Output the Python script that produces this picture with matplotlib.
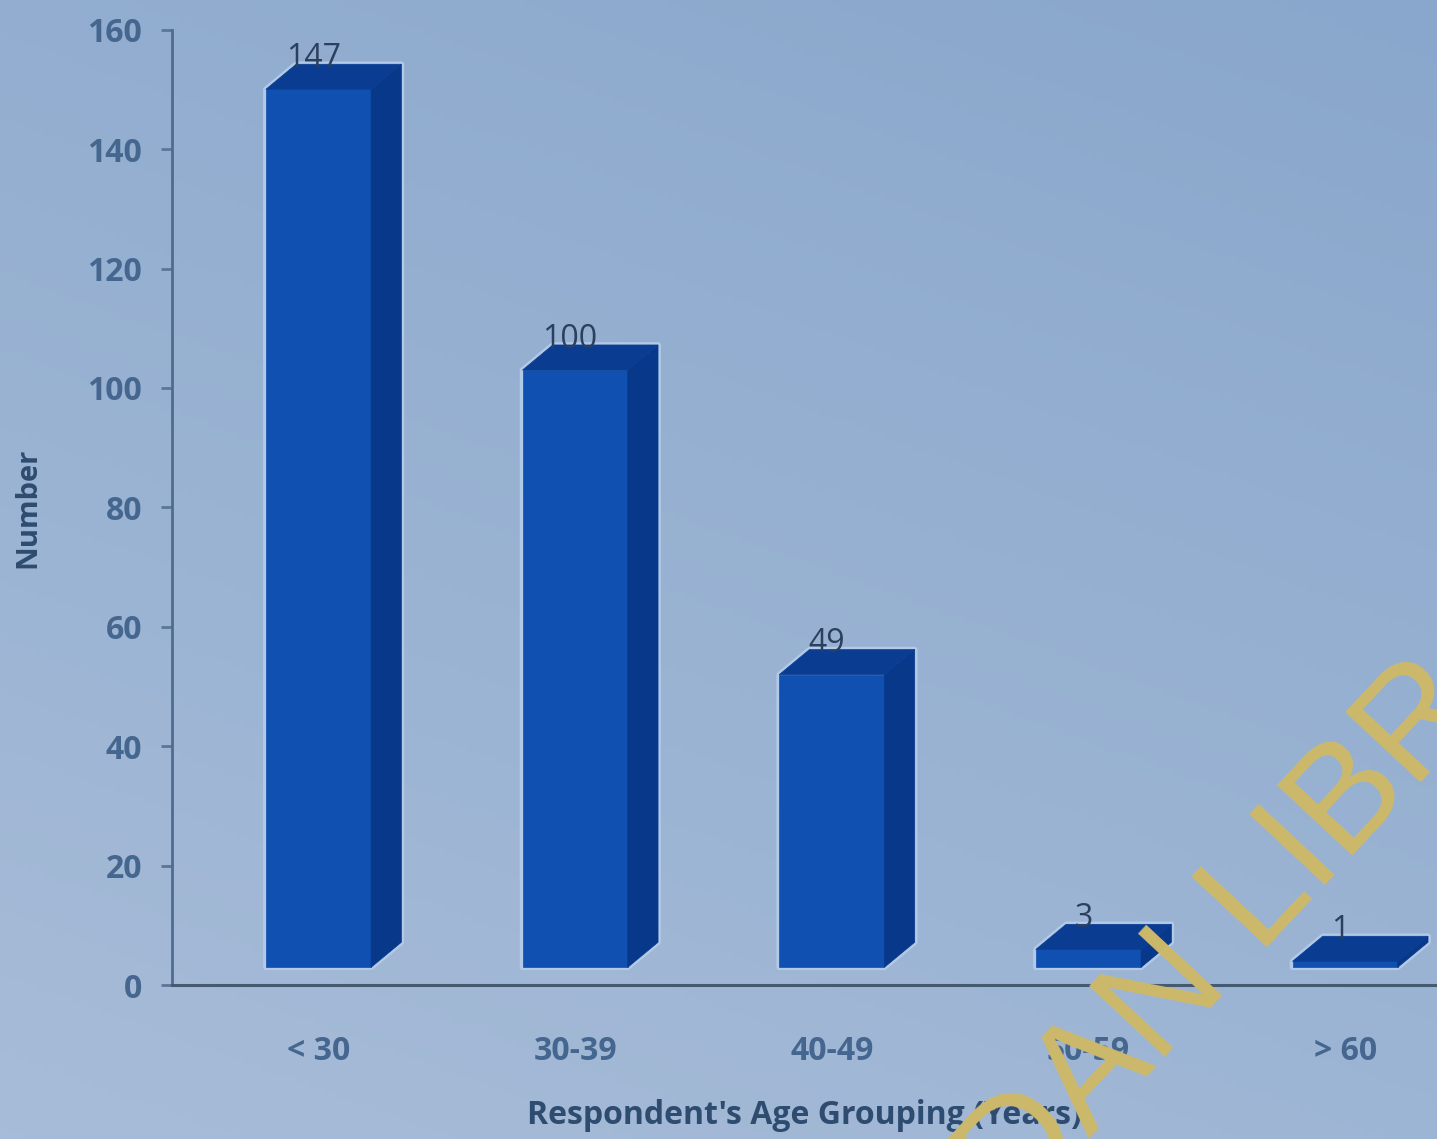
import numpy as np
import matplotlib
matplotlib.use("Agg")
import matplotlib.pyplot as plt
from matplotlib.patches import Polygon

# respondents by age group
age_groups = ["< 30", "30-39", "40-49", "50-59", "> 60"]
counts = [147, 100, 49, 3, 1]
y_ticks = [0, 20, 40, 60, 80, 100, 120, 140, 160]

plt.rcParams['font.family'] = ['Open Sans', 'DejaVu Sans']

fig = plt.figure(figsize=(14.37, 11.39), dpi=100)

# soft blue backdrop, slightly darker towards the top
bg = fig.add_axes([0, 0, 1, 1], zorder=-10)
gy, gx = np.mgrid[0:1:200j, 0:1:200j]
shade = 0.55 * gy + 0.25 * (1 - gx)
bg.imshow(shade, cmap=matplotlib.colors.LinearSegmentedColormap.from_list(
    "bgc", ["#89a7cc", "#a7bcd8"]), extent=[0, 1, 0, 1], aspect='auto',
    origin='upper')
bg.axis('off')

ax = fig.add_axes([0.12, 0.135, 0.88, 0.839])
ax.patch.set_alpha(0)

x = np.arange(len(age_groups))
w = 0.41      # front face width
ddx = 0.118   # depth offset, x data units
ddy = 4.2     # depth offset, y data units
lift = 3.0    # bars stand a little behind the front edge

front_c = "#0f50b0"
side_c = "#08388a"
top_c = "#0a3d92"

ax.bar(x, counts, width=w, bottom=lift, color=front_c, edgecolor=front_c,
       linewidth=0.5, zorder=3)
for xi, v in zip(x, counts):
    x0, x1 = xi - w / 2, xi + w / 2
    top = lift + v
    outline = [(x0, lift), (x1, lift), (x1 + ddx, lift + ddy),
               (x1 + ddx, top + ddy), (x0 + ddx, top + ddy), (x0, top)]
    side = [(x1, lift), (x1 + ddx, lift + ddy), (x1 + ddx, top + ddy), (x1, top)]
    lid = [(x0, top), (x1, top), (x1 + ddx, top + ddy), (x0 + ddx, top + ddy)]
    # pale glow round each box
    ax.add_patch(Polygon(outline, closed=True, facecolor='none',
                         edgecolor="#b2c9e8", linewidth=4, joinstyle='round',
                         zorder=2.9))
    ax.add_patch(Polygon(side, closed=True, facecolor=side_c,
                         edgecolor=side_c, linewidth=0.5, zorder=3))
    ax.add_patch(Polygon(lid, closed=True, facecolor=top_c,
                         edgecolor=top_c, linewidth=0.5, zorder=3))
    ax.text(xi - 0.02, top + ddy - 1.8, str(v), ha='center', va='bottom',
            fontsize=23, color="#2b3f5e", zorder=4)

ax.set_xlim(-0.569, 4.358)
ax.set_ylim(0, 160)
ax.set_yticks(y_ticks)
ax.set_xticks(x)
ax.set_xticklabels(age_groups)

txt_c = "#44668f"
ax.tick_params(axis='y', length=8, width=2, color="#5a7698", labelsize=23,
               labelcolor=txt_c, pad=14)
ax.tick_params(axis='x', length=0, labelsize=23, labelcolor=txt_c, pad=36)
for lab in ax.get_xticklabels() + ax.get_yticklabels():
    lab.set_fontweight('bold')

for s in ['top', 'right']:
    ax.spines[s].set_visible(False)
ax.spines['left'].set_color("#4f6c8f")
ax.spines['left'].set_linewidth(2)
ax.spines['bottom'].set_color("#45596f")
ax.spines['bottom'].set_linewidth(2.2)

ax.set_ylabel("Number", fontsize=21, fontweight='bold', color="#2e4b70",
              labelpad=32)
ax.set_xlabel("Respondent's Age Grouping (Years)", fontsize=23,
              fontweight='bold', color="#2e4b70", labelpad=22)

# library stamp across the lower right
fig.text(0.866, 0.197, "IBADAN LIBRARY", fontsize=108, color="#cdb96a",
         rotation=47, rotation_mode='anchor', ha='center', va='center',
         family=['Liberation Sans Narrow', 'Liberation Sans', 'DejaVu Sans'],
         zorder=10)

fig.savefig("out.png", dpi=100)
